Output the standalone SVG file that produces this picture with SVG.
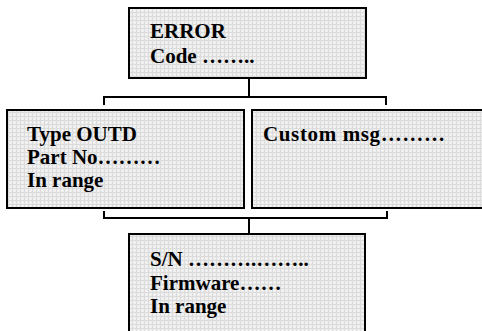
<svg xmlns="http://www.w3.org/2000/svg" width="482" height="331" viewBox="0 0 482 331">
<defs>
<pattern id="hatch" width="4" height="4" patternUnits="userSpaceOnUse">
<rect width="4" height="4" fill="#eeeeee"/>
<rect x="0" y="0" width="4" height="1" fill="#dcdcdc"/>
<rect x="0" y="0" width="1" height="4" fill="#dcdcdc"/>
<rect x="2" y="2" width="1" height="1" fill="#f9f9f9"/>
</pattern>
</defs>
<style>
.box{fill:url(#hatch);stroke:#000;stroke-width:2}
.t{font-family:"Liberation Serif","Times New Roman",serif;font-weight:bold;font-size:21px;fill:#000}
.c{fill:none;stroke:#000;stroke-width:2}
</style>
<rect width="482" height="331" fill="#fff"/>
<g id="connectors">
<path class="c" d="M249 78 V97 M104 105 V97 H386 V105"/>
<path class="c" d="M104 211 V218 H387 V211 M249 218 V234"/>
</g>
<g id="error">
<rect class="box" x="129" y="8" width="237" height="70"/>
<text class="t" x="150" y="38">ERROR</text>
<text class="t" x="150" y="63">Code ……..</text>
</g>
<g id="type">
<rect class="box" x="7" y="110" width="237" height="98"/>
<text class="t" x="27" y="141">Type OUTD</text>
<text class="t" x="27" y="164">Part No………</text>
<text class="t" x="27" y="187">In range</text>
</g>
<g id="custom">
<rect class="box" x="252" y="110" width="232" height="98"/>
<text class="t" x="263" y="141" textLength="182">Custom msg………</text>
</g>
<g id="sn">
<rect class="box" x="129" y="234" width="236" height="100"/>
<text class="t" x="150" y="266">S/N ……….……..</text>
<text class="t" x="150" y="290">Firmware……</text>
<text class="t" x="150" y="313">In range</text>
</g>
</svg>
